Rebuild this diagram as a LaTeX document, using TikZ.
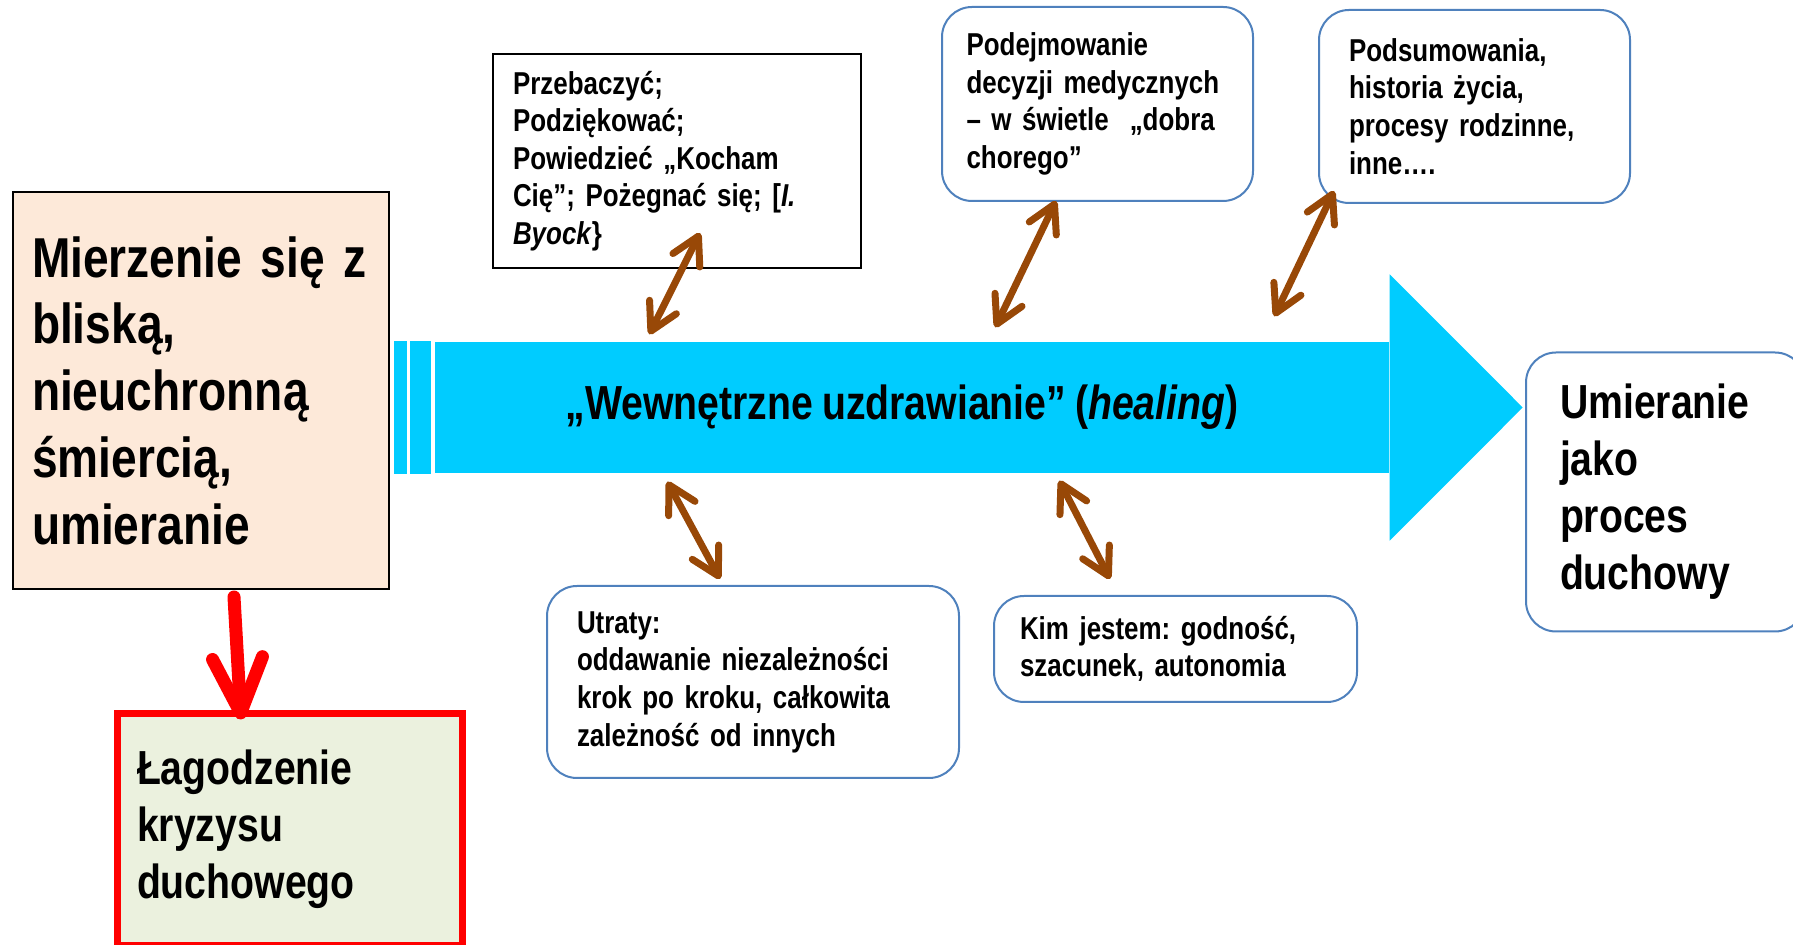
\documentclass[tikz,border=0pt]{standalone}
\usepackage{fontspec}
\setmainfont{Liberation Sans}[FakeStretch=0.82]
\usepackage{xcolor}
\usepackage{tikz}
\usetikzlibrary{calc}
\usetikzlibrary{arrows.meta}
\definecolor{healblue}{HTML}{00CCFF}
\definecolor{peach}{HTML}{FDE9D9}
\definecolor{sage}{HTML}{EBF1DE}
\definecolor{frameblue}{HTML}{4F81BD}
\definecolor{rustbrown}{HTML}{984807}
\newcommand{\tightspace}{\frenchspacing\spaceskip=0.19em\relax\xspaceskip=0.19em\relax}
\newcommand{\txtsmall}{\bfseries\fontsize{9}{10.7}\selectfont\tightspace}
\newcommand{\txtbig}{\bfseries\fontsize{13.6}{16.2}\selectfont\tightspace}
\newcommand{\txthuge}{\bfseries\fontsize{16}{19}\selectfont\tightspace}

\begin{document}
\begin{tikzpicture}[every node/.style={inner sep=0pt, align=left},
    sharpbox/.style={draw=black, line width=0.02cm},
    softbox/.style={draw=frameblue, line width=0.02cm, rounded corners=0.3cm, fill=white},
    barb/.tip={Straight Barb[round, length=0.27cm, width=0.3cm]},
    redtip/.tip={Straight Barb[round, length=0.55cm, width=0.5cm]},
    twoway/.style={draw=rustbrown, line width=0.07cm, line cap=round, barb-barb},
    redarrow/.style={draw=red, line width=0.13cm, line cap=round, -redtip}]
  \useasboundingbox (0, 0) rectangle (17.93, -9.45);

  \node[sharpbox, fill=peach, minimum width=3.76cm, minimum height=3.97cm, text width=3.38cm, font=\txthuge] (mierz) at (2.01, -3.905)
    {Mierzenie się z\\ bliską,\\ nieuchronną\\ śmiercią,\\ umieranie};

  \node[fill=healblue, minimum width=9.54cm, minimum height=1.31cm, align=center, font=\txtbig] (heal) at (9.12, -4.075)
    {\hspace*{-0.2cm}„Wewnętrzne uzdrawianie” (\textit{healing})};
  \fill[healblue] ([yshift=0.67cm]heal.north east) -- ([xshift=1.33cm]heal.east) -- ([yshift=-0.67cm]heal.south east) -- cycle;
  \fill[healblue] ([xshift=-0.24cm]heal.south west) rectangle ([xshift=-0.03cm]heal.north west);
  \fill[healblue] ([xshift=-0.40cm]heal.south west) rectangle ([xshift=-0.27cm]heal.north west);

  \node[sharpbox, fill=white, minimum width=3.68cm, minimum height=2.14cm, text width=3.28cm, font=\txtsmall] (przeb) at (6.77, -1.61)
    {Przebaczyć;\\ Podziękować;\\ Powiedzieć „Kocham\\ Cię”; Pożegnać się; [\textit{I.}\\ \textit{Byock}\}};
  \node[softbox, minimum width=3.11cm, minimum height=1.94cm, text width=2.62cm, font=\txtsmall] (podej) at (10.975, -1.04)
    {Podejmowanie\\ decyzji medycznych\\ – w świetle \ „dobra\\ chorego”};
  \node[softbox, minimum width=3.11cm, minimum height=1.93cm, text width=2.51cm, font=\txtsmall] (podsum) at (14.745, -1.065)
    {Podsumowania,\\ historia życia,\\ procesy rodzinne,\\ inne….};
  \node[softbox, minimum width=4.12cm, minimum height=1.92cm, text width=3.52cm, font=\txtsmall] (utraty) at (7.53, -6.82)
    {Utraty:\\ oddawanie niezależności\\ krok po kroku, całkowita\\ zależność od innych};
  \node[softbox, minimum width=3.63cm, minimum height=1.06cm, text width=3.11cm, font=\txtsmall] (kim) at (11.755, -6.49)
    {Kim jestem: godność,\\ szacunek, autonomia};
  \node[softbox, minimum width=2.79cm, minimum height=2.79cm, text width=2.11cm, font=\txtbig] (umier) at (16.655, -4.92)
    {Umieranie\\ jako\\ proces\\ duchowy};
  \node[draw=red, line width=0.07cm, fill=sage, minimum width=3.45cm, minimum height=2.315cm, text width=3.06cm, font=\txtbig] (lagodz) at (2.9, -8.2925)
    {Łagodzenie\\ kryzysu\\ duchowego};

  % links to the healing arrow
  \draw[twoway] ($(przeb.south)+(0.23,0.36)$) -- ($(heal.north west)+(2.15,0.07)$);
  \draw[twoway] ($(podej.south)+(-0.415,0.01)$) -- ($(heal.north west)+(5.61,0.14)$);
  \draw[twoway] ($(podsum.south west)+(0.16,0.13)$) -- ($(heal.north west)+(8.40,0.25)$);
  \draw[twoway] ($(heal.south west)+(2.33,-0.08)$) -- ($(utraty.north)+(-0.33,0.06)$);
  \draw[twoway] ($(heal.south west)+(6.25,-0.07)$) -- ($(kim.north)+(-0.655,0.16)$);

  \draw[redarrow] ($(mierz.south)+(0.33,-0.07)$) -- ($(lagodz.north)+(-0.49,-0.095)$);
\end{tikzpicture}
\end{document}
